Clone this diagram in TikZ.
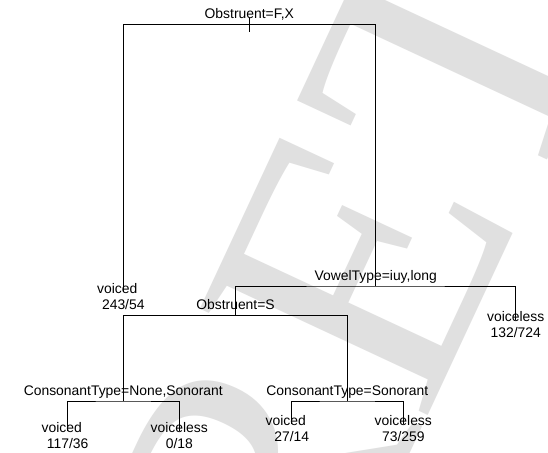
\documentclass[tikz,border=0pt]{standalone}
\usepackage{fontspec}
\setmainfont{Liberation Sans}
\newfontfamily\markfont{Liberation Serif}
\definecolor{markgray}{gray}{0.88}
\newcommand\pad{\hspace*{12pt}}
\newcommand\leaflabel[2]{\begin{tabular}[t]{@{}c@{}}#1\\#2\end{tabular}}

\begin{document}
\begin{tikzpicture}[x=1pt, y=-1pt,
  every node/.style={font=\fontsize{13.9}{16}\selectfont},
  split/.style={anchor=base, inner sep=0pt, yshift=6pt},
  leaf/.style={anchor=base, inner sep=0pt, yshift=-1.5pt},
  branch/.style={line width=0.9pt},
  wmark/.style={rotate=65, inner sep=0pt, text=markgray,
                font=\markfont\fontsize{384}{384}\selectfont}
]
  \path[use as bounding box, fill=white] (0,0) rectangle (548,452);

  % watermark behind the tree
  \begin{scope}
    \clip (0,0) rectangle (548,452);
    \node[wmark, anchor=base west] (markend)   at (423.2,426.1) {ET};
    \node[wmark, anchor=base east] (markstart) at (423.2,426.1) {SECR};
  \end{scope}

  % splits and leaves
  \coordinate (root)    at (249.3,24.5);
  \coordinate (ticktop) at (249.3,18);
  \coordinate (tickbot) at (249.3,32);
  \coordinate (leafA)   at (123.3,292);
  \coordinate (vowel)   at (375.7,286);
  \coordinate (leafB)   at (515.7,319.5);
  \coordinate (obst)    at (235.5,315.5);
  \coordinate (consN)   at (123.3,401);
  \coordinate (consS)   at (347.3,401);
  \coordinate (leafC)   at (67.7,431);
  \coordinate (leafD)   at (179.3,431);
  \coordinate (leafE)   at (291.7,423.5);
  \coordinate (leafF)   at (403.3,423.5);

  \draw[branch] (ticktop) -- (tickbot);
  \draw[branch] (leafA) |- (root)  -| (vowel);
  \draw[branch] (obst)  |- (vowel) -| (leafB);
  \draw[branch] (consN) |- (obst)  -| (consS);
  \draw[branch] (leafC) |- (consN) -| (leafD);
  \draw[branch] (leafE) |- (consS) -| (leafF);

  \node[split] (rootlab)  at (root)  {Obstruent=F,X};
  \node[split] (vowellab) at (vowel) {VowelType=iuy,long};
  \node[split] (obstlab)  at (obst)  {Obstruent=S};
  \node[split] (consNlab) at (consN) {ConsonantType=None,Sonorant};
  \node[split] (consSlab) at (consS) {ConsonantType=Sonorant};

  \node[leaf] (leafAlab) at (leafA) {\leaflabel{voiced\pad}{243/54}};
  \node[leaf] (leafBlab) at (leafB) {\leaflabel{voiceless}{132/724}};
  \node[leaf] (leafClab) at (leafC) {\leaflabel{voiced\pad}{117/36}};
  \node[leaf] (leafDlab) at (leafD) {\leaflabel{voiceless}{0/18}};
  \node[leaf] (leafElab) at (leafE) {\leaflabel{voiced\pad}{27/14}};
  \node[leaf] (leafFlab) at (leafF) {\leaflabel{voiceless}{73/259}};
\end{tikzpicture}
\end{document}
